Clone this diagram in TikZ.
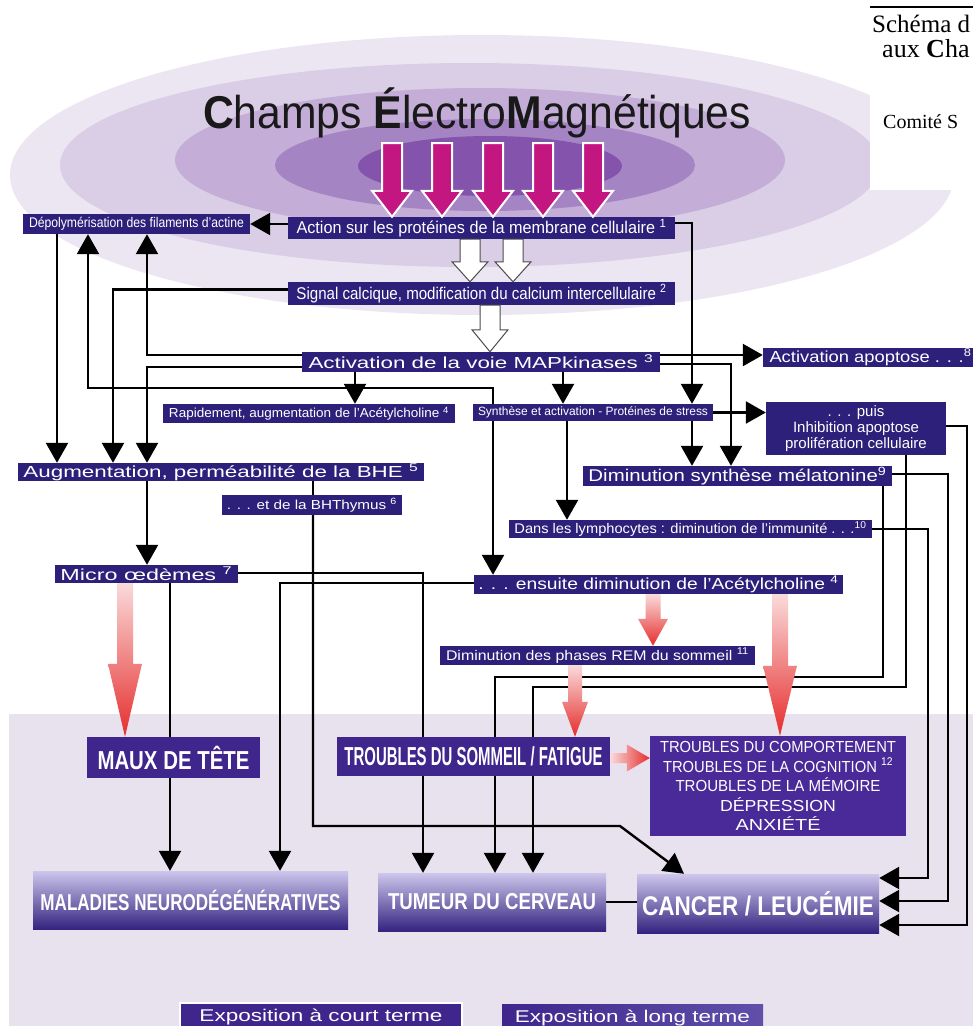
\documentclass[tikz,border=0pt]{standalone}
\usepackage{fontspec}
\setmainfont{Liberation Sans}
\newfontfamily\seriffont{Liberation Serif}
\usepackage{graphicx}
\usetikzlibrary{arrows.meta,calc,backgrounds,positioning}

\definecolor{boxblue}{RGB}{45,32,122}
\definecolor{boxviolet}{RGB}{62,38,140}
\definecolor{boxlilac}{RGB}{74,42,152}
\definecolor{gradtop}{RGB}{205,198,236}
\definecolor{gradmid}{RGB}{96,80,170}
\definecolor{gradbot}{RGB}{52,36,128}
\definecolor{ellA}{RGB}{236,230,242}
\definecolor{ellB}{RGB}{218,205,230}
\definecolor{ellC}{RGB}{196,174,216}
\definecolor{ellD}{RGB}{164,132,195}
\definecolor{ellE}{RGB}{132,84,172}
\definecolor{band}{RGB}{232,225,238}
\definecolor{magarrow}{RGB}{196,22,128}
\definecolor{redlight}{RGB}{250,218,218}
\definecolor{reddeep}{RGB}{230,45,45}

\pgfdeclarelayer{bg}
\pgfdeclarelayer{wires}
\pgfsetlayers{bg,wires,main}

% text squeezed to a given width
\newcommand\fit[3]{\resizebox{#1pt}{\height}{\fontsize{#2}{#2}\selectfont #3}}
% fat arrows: style, from, to, half shaft, half head, head length
\newcommand\fatdown[6]{\path[#1] let \p1=#2, \p2=#3 in
  (\x1-#4pt,\y1) -- (\x1+#4pt,\y1) -- (\x1+#4pt,\y2+#6pt) -- (\x1+#5pt,\y2+#6pt)
  -- (\x1,\y2) -- (\x1-#5pt,\y2+#6pt) -- (\x1-#4pt,\y2+#6pt) -- cycle;}
\newcommand\fatright[6]{\path[#1] let \p1=#2, \p2=#3 in
  (\x1,\y1+#4pt) -- (\x2-#6pt,\y1+#4pt) -- (\x2-#6pt,\y1+#5pt) -- (\x2,\y1)
  -- (\x2-#6pt,\y1-#5pt) -- (\x2-#6pt,\y1-#4pt) -- (\x1,\y1-#4pt) -- cycle;}

\begin{document}
\begin{tikzpicture}[x=1pt,y=-1pt,
box/.style={fill=boxblue,text=white,inner sep=0pt},
boxb/.style={fill=boxviolet,text=white,inner sep=0pt},
boxc/.style={fill=boxlilac,text=white,inner sep=0pt,align=center},
boxg/.style={top color=gradtop,middle color=gradmid,bottom color=gradbot,text=white,inner sep=0pt},
sz/.style 2 args={minimum width=#1pt,minimum height=#2pt},
conn/.style={line width=2.4pt,-{Triangle[length=20pt,width=22pt]}},
link/.style={line width=2.4pt},
redfat/.style={top color=redlight,bottom color=reddeep},
hollow/.style={fill=white,draw=black!70,line width=1pt},
serifnote/.style={anchor=base west,inner sep=0pt,font={\seriffont\fontsize{#1}{#1}\selectfont}}]
\useasboundingbox (0,0) rectangle (973,1026);

\begin{pgfonlayer}{bg}
\fill[white] (0,0) rectangle (973,1026);
\fill[ellA] (482,175) ellipse (472 and 140);
\fill[ellB] (470,165) ellipse (410 and 102);
\fill[ellC] (480,160) ellipse (305 and 72);
\fill[ellD] (485,165) ellipse (210 and 46);
\fill[ellE] (490,166) ellipse (132 and 30);
\fill[white] (870,0) rectangle (973,190);
\draw[line width=1.2pt] (870,7) -- (973,7);
\fill[band] (9,714) rectangle (973,1026);
\end{pgfonlayer}

\node (titre) [anchor=base,text=black!90] at (477,128)
  {\resizebox{548pt}{\height}{\fontsize{46}{46}\selectfont\textbf{C}hamps \textbf{É}lectro\textbf{M}agnétiques}};
\node (schema) [serifnote=25] at (872,32) {Schéma d};
\node (auxch) [serifnote=26] at (882,57) {aux \textbf{C}ha};
\node (comite) [serifnote=20] at (883,128) {Comité S};

% boxes
\node (depoly) [box,sz={227}{20}] at (136.5,224) {\fit{215}{14}{Dépolymérisation des filaments d’actine}};
\node (action) [box,sz={387}{22}] at (481.5,228) {\fit{370}{17}{Action sur les protéines de la membrane cellulaire \textsuperscript{1}}};
\node (signal) [box,sz={387}{23}] at (481.5,293.5) {\fit{370}{17}{Signal calcique, modification du calcium intercellulaire \textsuperscript{2}}};
\node (mapk) [box,sz={358}{20}] at (481,362) {\fit{345}{16}{Activation de la voie MAPkinases \textsuperscript{3}}};
\node (apopt) [box,sz={215}{19}] at (870.5,357.5) {\fit{202}{16}{Activation apoptose . . .\textsuperscript{8}}};
\node (rapid) [box,sz={292}{19}] at (309,413.5) {\fit{280}{13}{Rapidement, augmentation de l’Acétylcholine \textsuperscript{4}}};
\node (synth) [box,sz={240}{17}] at (593,412.5) {\fit{230}{12}{Synthèse et activation - Protéines de stress}};
\node (puis) [box,sz={180}{53},align=center,font={\fontsize{15}{16}\selectfont}] at (856,428.5)
  {. . . puis\\Inhibition apoptose\\prolifération cellulaire};
\node (melat) [box,sz={309}{20}] at (737.5,476) {\fit{298}{17}{Diminution synthèse mélatonine\textsuperscript{9}}};
\node (augm) [box,sz={406}{18}] at (221,472) {\fit{395}{16}{Augmentation, perméabilité de la BHE \textsuperscript{5}}};
\node (bhthy) [box,sz={180}{20}] at (312,505) {\fit{170}{13}{. . . et de la BHThymus \textsuperscript{6}}};
\node (lymph) [box,sz={363}{18}] at (690.5,529) {\fit{352}{14}{Dans les lymphocytes : diminution de l’immunité . . .\textsuperscript{10}}};
\node (micro) [box,sz={183}{18}] at (146.5,574) {\fit{172}{16}{Micro œdèmes \textsuperscript{7}}};
\node (ensuite) [box,sz={369}{19}] at (658.5,584.5) {\fit{360}{16}{. . . ensuite diminution de l’Acétylcholine \textsuperscript{4}}};
\node (rem) [box,sz={315}{19}] at (597.5,655.5) {\fit{303}{14}{Diminution des phases REM du sommeil \textsuperscript{11}}};
\node (maux) [boxb,sz={173}{41}] at (173.5,757.5) {\fit{152}{26}{\bfseries MAUX DE TÊTE}};
\node (sommeil) [boxb,sz={273}{39}] at (473.5,756.5) {\fit{258}{26}{\bfseries TROUBLES DU SOMMEIL / FATIGUE}};
\node (comport) [boxc,sz={256}{100},font={\fontsize{16}{19.5}\selectfont}] at (778,786)
  {\fit{236}{16}{TROUBLES DU COMPORTEMENT}\\
   \fit{230}{16}{TROUBLES DE LA COGNITION \textsuperscript{12}}\\
   \fit{205}{16}{TROUBLES DE LA MÉMOIRE}\\
   \fit{116}{16}{DÉPRESSION}\\
   \fit{85}{16}{ANXIÉTÉ}};
\node (maladies) [boxg,sz={315}{58}] at (190.5,900) {\fit{300}{23}{\bfseries MALADIES NEURODÉGÉNÉRATIVES}};
\node (tumeur) [boxg,sz={228}{58}] at (492,902) {\fit{208}{23}{\bfseries TUMEUR DU CERVEAU}};
\node (cancer) [boxg,sz={242}{59}] at (758,903.5) {\fit{232}{27}{\bfseries CANCER / LEUCÉMIE}};
\node (court) [fill=boxviolet,draw=white,line width=1.5pt,text=white,sz={282}{28},inner sep=0pt,anchor=north] at (321,1002)
  {\fit{243}{17}{Exposition à court terme}};
\node (long) [left color=boxviolet,right color=gradmid,text=white,sz={261}{28},inner sep=0pt,anchor=north] at (632.5,1004)
  {\fit{235}{17}{Exposition à long terme}};

% fat arrows
\foreach \ax in {392,442,493,543,593}{
  \fatdown{fill=magarrow,draw=white,line width=2pt}{(\ax,143)}{(\ax,0 |- action.north)}{10}{20}{26}}
\fatdown{hollow}{(470,0 |- action.south)}{(470,0 |- signal.north)}{10}{18}{20}
\fatdown{hollow}{(513,0 |- action.south)}{(513,0 |- signal.north)}{10}{18}{20}
\fatdown{hollow}{(490,0 |- signal.south)}{(490,0 |- mapk.north)}{10}{18}{22}
\fatdown{redfat}{(125,0 |- micro.south)}{(125,0 |- maux.north)}{8}{17}{73}
\fatdown{redfat}{(653,0 |- ensuite.south)}{(653,0 |- rem.north)}{7.5}{15}{27}
\fatdown{redfat}{(780,0 |- ensuite.south)}{(780,0 |- comport.north)}{8}{17}{70}
\fatdown{redfat}{(575,0 |- rem.south)}{(575,0 |- sommeil.north)}{7}{13}{35}
\fatright{left color=redlight,right color=reddeep}{(sommeil.east |- 0,758)}{(comport.west |- 0,758)}{5}{13.5}{23}

% connectors
\begin{pgfonlayer}{wires}
\draw[conn] (action.west |- depoly) -- (depoly);
\draw[conn] (57,0 |- depoly.south) -- (57,0 |- augm.north);
\draw[conn] ([yshift=4pt]signal.west) -| (113,0 |- augm.north);
\draw[conn] ([yshift=7pt]mapk.west) -| (147,0 |- depoly.south);
\draw[conn] ([yshift=-5pt]mapk.west) -| (147,0 |- augm.north);
\draw[conn] (493,0 |- synth.north) -- (493,388) -| (88,0 |- depoly.south);
\draw[conn] (493,0 |- synth.south) -- (493,0 |- ensuite.north);
\draw[conn] (355,0 |- mapk.south) -- (355,0 |- rapid.north);
\draw[conn] (563,0 |- mapk.south) -- (563,0 |- synth.north);
\draw[conn] ([yshift=5pt]action.east) -| (692,0 |- synth.north);
\draw[conn] (692,0 |- synth.south) -- (692,0 |- melat.north);
\draw[conn] ([yshift=7pt]mapk.east) -- ([yshift=7pt]mapk.east -| apopt.west);
\draw[conn] ([yshift=-2pt]mapk.east) -| (731,0 |- melat.north);
\draw[conn] (synth.east) -- (synth.east -| puis.west);
\draw[conn] (567,0 |- synth.south) -- (567,0 |- lymph.north);
\draw[link] (313,0 |- augm.south) -- (313,0 |- bhthy.north);
\draw[conn] (147,0 |- augm.south) -- (147,0 |- micro.north);
\draw[conn] (313,0 |- bhthy.south) -- (313,826) -- (620,826) -- (684,0 |- cancer.north);
\draw[conn] ([yshift=1pt]micro.east) -| (423,0 |- tumeur.north);
\draw[link] (170,0 |- micro.south) -- (170,0 |- maux.north);
\draw[conn] (170,0 |- maux.south) -- (170,0 |- maladies.north);
\draw[conn] ([yshift=1.5pt]ensuite.west) -| (280,0 |- maladies.north);
\draw[conn] (883,0 |- melat.south) -- (883,677) -| (495,0 |- tumeur.north);
\draw[conn] (906,0 |- puis.south) -- (906,687) -| (533,0 |- tumeur.north);
\draw[conn] ([yshift=2.5pt]puis.east) -| (967,925) -- (cancer.east |- 0,925);
\draw[conn] ([yshift=2pt]melat.east) -| (948,901) -- (cancer.east |- 0,901);
\draw[conn] (lymph.east) -| (928,878) -- (cancer.east |- 0,878);
\draw[link] (tumeur.east) -- (tumeur.east -| cancer.west);
\end{pgfonlayer}
\end{tikzpicture}
\end{document}
